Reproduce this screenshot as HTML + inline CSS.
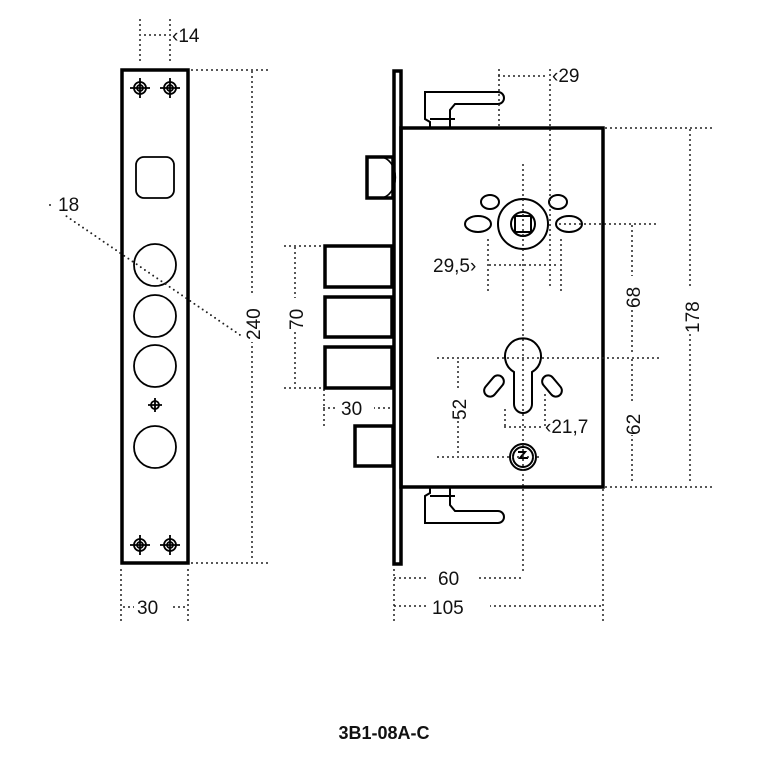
<!DOCTYPE html>
<html><head><meta charset="utf-8"><style>
html,body{margin:0;padding:0;background:#fff;}
svg{display:block;}
text{font-family:"Liberation Sans",sans-serif;fill:#111;}
.d{stroke:#222;stroke-width:2;stroke-dasharray:0 5;fill:none;stroke-linecap:round;}
.t{font-size:19px;}
</style></head><body>
<svg width="768" height="768" viewBox="0 0 768 768" xmlns="http://www.w3.org/2000/svg">
<g fill="none" stroke="#000">
<rect x="122" y="70" width="66" height="493" stroke-width="3.5"/>
<g stroke-width="1.8">
<g><circle cx="140" cy="88" r="6"/><circle cx="140" cy="88" r="3"/><path d="M130 88h20M140 78v20"/></g>
<g><circle cx="170" cy="88" r="6"/><circle cx="170" cy="88" r="3"/><path d="M160 88h20M170 78v20"/></g>
<g><circle cx="140" cy="545" r="6"/><circle cx="140" cy="545" r="3"/><path d="M130 545h20M140 535v20"/></g>
<g><circle cx="170" cy="545" r="6"/><circle cx="170" cy="545" r="3"/><path d="M160 545h20M170 535v20"/></g>
<g><circle cx="155" cy="405" r="4"/><path d="M148 405h14M155 398v14"/></g>
<rect x="136" y="157" width="38" height="41" rx="8"/>
<circle cx="155" cy="265" r="21"/><circle cx="155" cy="316" r="21"/><circle cx="155" cy="366" r="21"/><circle cx="155" cy="447" r="21"/>
</g>
<rect x="394" y="71" width="7" height="493" stroke-width="3.5"/>
<rect x="401" y="128" width="202" height="359" stroke-width="3.5"/>
<path d="M430 128v-6l-5-3v-27h73a6 6 0 0 1 0 12h-43l-5 6v18M430 119h25" stroke-width="2"/>
<path d="M430 487v6l-5 3v27h73a6 6 0 0 0 0-12h-43l-5-6v-18M430 496h25" stroke-width="2"/>
<rect x="367" y="157" width="26" height="41" stroke-width="3.5"/>
<path d="M380 157a15 20 0 0 1 0 41" stroke-width="1.6"/>
<rect x="325" y="246" width="67" height="41" stroke-width="3.5"/>
<rect x="325" y="297" width="67" height="40" stroke-width="3.5"/>
<rect x="325" y="347" width="67" height="41" stroke-width="3.5"/>
<rect x="355" y="426" width="38" height="40" stroke-width="3.5"/>
<g stroke-width="2">
<circle cx="523" cy="224" r="25"/><circle cx="523" cy="224" r="12"/><rect x="515" y="216" width="16" height="16"/>
<ellipse cx="490" cy="202" rx="9" ry="7"/><ellipse cx="558" cy="202" rx="9" ry="7"/>
<ellipse cx="478" cy="224" rx="13" ry="8"/><ellipse cx="569" cy="224" rx="13" ry="8"/>
<path d="M514 372a18 18 0 1 1 18 0v32a9 9 0 0 1-18 0z"/>
<rect x="482" y="380" width="24" height="12" rx="6" transform="rotate(-50 494 386)"/>
<rect x="540" y="380" width="24" height="12" rx="6" transform="rotate(50 552 386)"/>
<circle cx="523" cy="457" r="13"/><circle cx="523" cy="457" r="10"/>
<path d="M518 452l7 0-5 6 8 0"/>
</g>
</g>
<g class="d">
<path d="M140 20v45M170 20v45M140 35h30"/>
<path d="M192 70h80M192 563h80M252 72v490"/>
<path d="M50 205L240 335"/>
<path d="M121 570v55M188 570v55M124 607h62"/>
<path d="M499 70v60M550 70v220M499 76h50"/>
<path d="M523 165v410"/>
<path d="M488 240v55M561 240v55M490 265h70"/>
<path d="M560 224h100M606 128h110M606 487h110M690 130v355"/>
<path d="M632 226v130M632 360v125"/>
<path d="M285 246h40M285 388h40M295 248v138"/>
<path d="M324 390v40M324 408h66"/>
<path d="M438 358h225M438 457h105M458 362v92"/>
<path d="M505 410v20M545 395v35M505 427h40"/>
<path d="M394 570v55M603 490v135M395 578h126M395 606h206"/>
</g>
<rect x="174" y="25" width="40" height="22" fill="#fff"/>
<text class="t" x="172" y="42">‹14</text>
<rect x="52" y="193" width="30" height="22" fill="#fff"/>
<text class="t" x="58" y="211">18</text>
<rect x="244" y="296" width="18" height="46" fill="#fff"/>
<text class="t" transform="translate(260 340) rotate(-90)">240</text>
<rect x="134" y="597" width="36" height="22" fill="#fff"/>
<text class="t" x="137" y="614">30</text>
<text class="t" x="552" y="82">‹29</text>
<rect x="430" y="255" width="54" height="22" fill="#fff"/>
<text class="t" x="433" y="272">29,5›</text>
<rect x="623" y="276" width="18" height="32" fill="#fff"/>
<text class="t" transform="translate(640 308) rotate(-90)">68</text>
<rect x="623" y="403" width="18" height="32" fill="#fff"/>
<text class="t" transform="translate(640 435) rotate(-90)">62</text>
<rect x="682" y="288" width="18" height="44" fill="#fff"/>
<text class="t" transform="translate(699 333) rotate(-90)">178</text>
<rect x="286" y="298" width="18" height="32" fill="#fff"/>
<text class="t" transform="translate(303 330) rotate(-90)">70</text>
<rect x="338" y="398" width="36" height="22" fill="#fff"/>
<text class="t" x="341" y="415">30</text>
<rect x="449" y="388" width="18" height="32" fill="#fff"/>
<text class="t" transform="translate(466 420) rotate(-90)">52</text>
<text class="t" x="545" y="433">‹21,7</text>
<rect x="428" y="566" width="50" height="22" fill="#fff"/>
<text class="t" x="438" y="585">60</text>
<rect x="428" y="594" width="62" height="22" fill="#fff"/>
<text class="t" x="432" y="614">105</text>
<text x="384" y="739" text-anchor="middle" style="font-size:18px;font-weight:bold;">3B1-08A-C</text>
</svg>
</body></html>
